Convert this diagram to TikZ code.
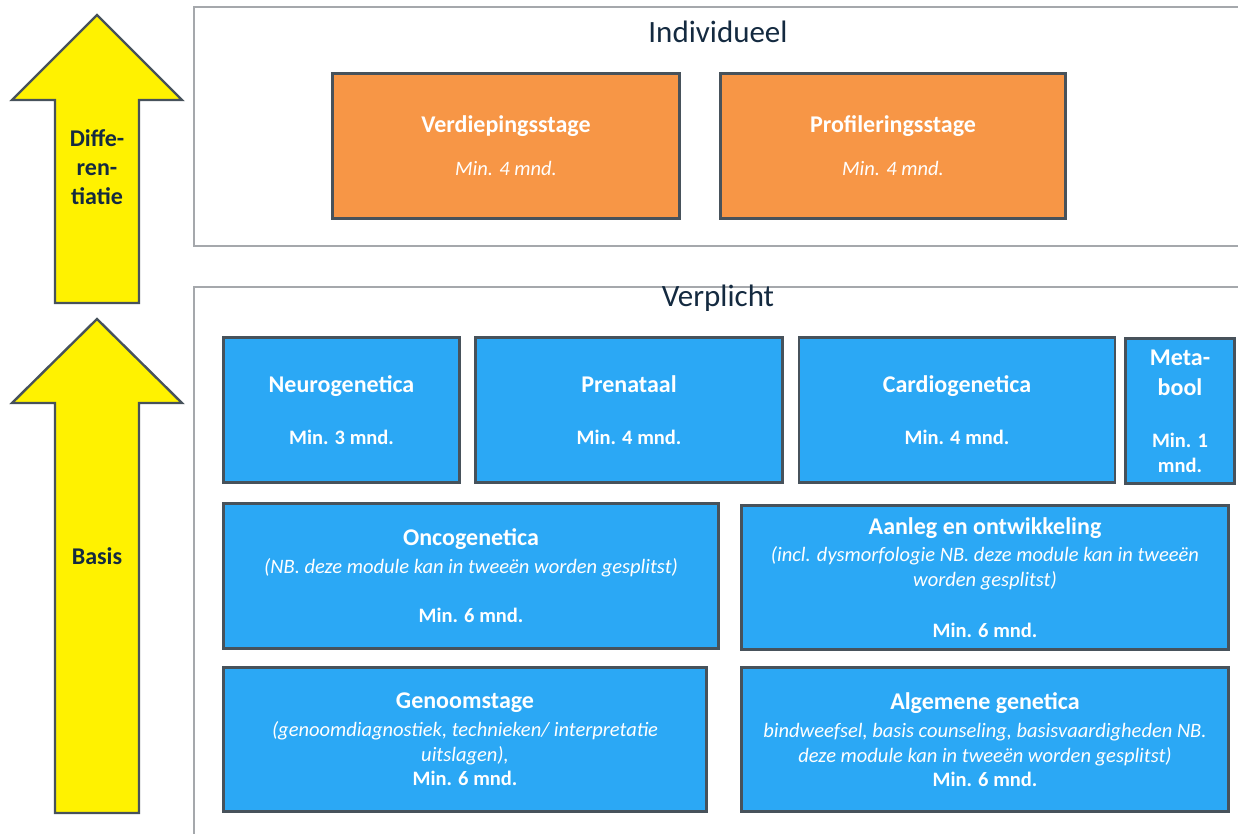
\documentclass[tikz,border=0pt]{standalone}
\usepackage{fontspec}
\setmainfont{Carlito}
\usepackage{tikz}

\definecolor{oranjevul}{RGB}{247,150,70}
\definecolor{blauwvul}{RGB}{43,168,245}
\definecolor{rand}{RGB}{71,82,91}
\definecolor{kop}{RGB}{20,42,64}
\definecolor{paneelrand}{RGB}{165,168,172}

\newcommand{\titel}[1]{{\fontsize{24}{25}\selectfont\bfseries #1}}
\newcommand{\cursief}[1]{{\itshape #1}}
\newcommand{\duur}[1]{{\bfseries #1}}

\begin{document}
\begin{tikzpicture}[x=1pt, y=-1pt,
    blok/.style={draw=rand, line width=2.6pt, align=center, text=white, inner sep=0pt,
                 font=\fontsize{20.5}{25}\selectfont},
    oranje/.style={blok, fill=oranjevul},
    blauw/.style={blok, fill=blauwvul},
    paneel/.style={draw=paneelrand, line width=1.3pt},
    kopje/.style={text=kop, font=\fontsize{31}{36}\selectfont},
    pijl/.style={draw=rand, line width=2.4pt, fill=yellow, line join=miter},
    pijltekst/.style={text=kop, align=center, font=\fontsize{24}{29}\selectfont\bfseries}]
    \useasboundingbox (0,0) rectangle (1238,833);
    \clip (0,0) rectangle (1238,833);

    % Panelen
    \draw[paneel] (194,7) rectangle (1250,246);
    \draw[paneel] (194,287) rectangle (1250,850);
    \node[kopje] (individueel) at (718,32) {Individueel};
    \node[kopje] (verplicht) at (718,298) {Verplicht};

    % Pijlen
    \draw[pijl] (97,15) -- (182,100) -- (139,100) -- (139,303) -- (55,303) -- (55,100) -- (12,100) -- cycle;
    \draw[pijl] (97,319) -- (182,403) -- (139,403) -- (139,813) -- (55,813) -- (55,403) -- (12,403) -- cycle;
    \node[pijltekst] (diff) at (97,167) {Diffe-\\ren-\\tiatie};
    \node[pijltekst] (basis) at (97,556) {Basis};

    % Individueel
    \node[oranje, minimum width=347pt, minimum height=145pt] (verdieping) at (506,146)
        {\titel{Verdiepingsstage}\\[18pt] \cursief{Min. 4 mnd.}};
    \node[oranje, minimum width=345pt, minimum height=145pt] (profilering) at (893,146)
        {\titel{Profileringsstage}\\[18pt] \cursief{Min. 4 mnd.}};

    % Verplicht
    \node[blauw, minimum width=236pt, minimum height=145pt] (neuro) at (341.5,410)
        {\titel{Neurogenetica}\\[27pt] \duur{Min. 3 mnd.}};
    \node[blauw, minimum width=307pt, minimum height=145pt] (prenataal) at (629,410)
        {\titel{Prenataal}\\[27pt] \duur{Min. 4 mnd.}};
    \node[blauw, minimum width=316pt, minimum height=145pt] (cardio) at (957,410)
        {\titel{Cardiogenetica}\\[27pt] \duur{Min. 4 mnd.}};
    \node[blauw, minimum width=109pt, minimum height=145pt] (metabool) at (1180,411)
        {\titel{Meta-}\\[5pt] \titel{bool}\\[27pt] \duur{Min. 1}\\ \duur{mnd.}};
    \node[blauw, minimum width=495pt, minimum height=145pt] (onco) at (471,576)
        {\titel{Oncogenetica}\\[3pt] \cursief{(NB. deze module kan in tweeën worden gesplitst)}\\[24pt]
         \duur{Min. 6 mnd.}};
    \node[blauw, minimum width=487pt, minimum height=144pt] (aanleg) at (985,577.5)
        {\titel{Aanleg en ontwikkeling}\\[2pt] \cursief{(incl. dysmorfologie NB. deze module kan in tweeën}\\
         \cursief{worden gesplitst)}\\[26pt] \duur{Min. 6 mnd.}};
    \node[blauw, minimum width=483pt, minimum height=144pt] (genoom) at (465,739.5)
        {\titel{Genoomstage}\\[3pt] \cursief{(genoomdiagnostiek, technieken/ interpretatie}\\
         \cursief{uitslagen),}\\[-1pt] \duur{Min. 6 mnd.}};
    \node[blauw, minimum width=487pt, minimum height=144pt] (algemeen) at (985,739.5)
        {\titel{Algemene genetica}\\[3pt] \cursief{bindweefsel, basis counseling, basisvaardigheden NB.}\\
         \cursief{deze module kan in tweeën worden gesplitst)}\\[-1pt] \duur{Min. 6 mnd.}};
\end{tikzpicture}
\end{document}
